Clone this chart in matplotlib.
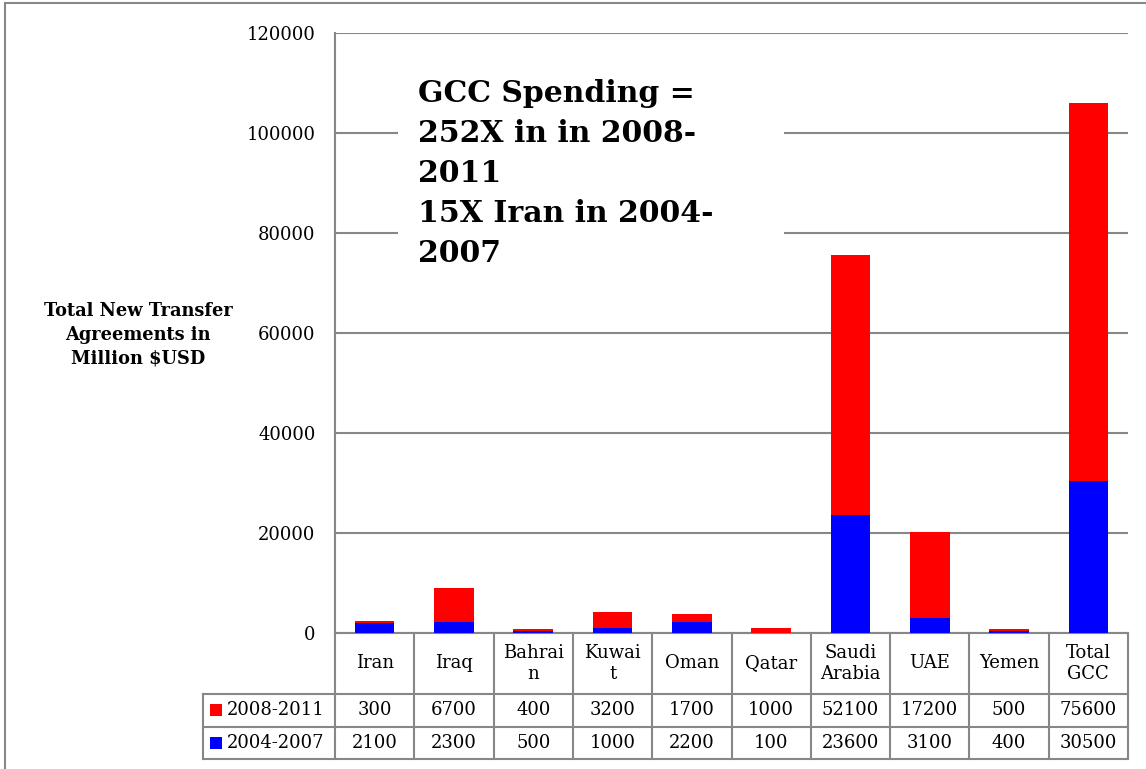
import numpy as np
import matplotlib.pyplot as plt
from matplotlib.patches import Rectangle
from matplotlib.lines import Line2D
import matplotlib.transforms as mtransforms

# data
countries = ['Iran', 'Iraq', 'Bahrai\nn', 'Kuwai\nt', 'Oman', 'Qatar',
             'Saudi\nArabia', 'UAE', 'Yemen', 'Total\nGCC']
vals_2004 = [2100, 2300, 500, 1000, 2200, 100, 23600, 3100, 400, 30500]
vals_2008 = [300, 6700, 400, 3200, 1700, 1000, 52100, 17200, 500, 75600]
series = ['2008-2011', '2004-2007']
yticks = [0, 20000, 40000, 60000, 80000, 100000, 120000]

RED = '#FF0000'
BLUE = '#0000FF'
GRAY = '#878787'

plt.rcParams['font.family'] = ['DejaVu Serif']

W, H = 1146, 769
fig = plt.figure(figsize=(W / 100, H / 100), dpi=100)

# outer chart border
fig.add_artist(Rectangle((5 / W, -0.01), 1.2, 1 - 3 / H + 0.01, transform=fig.transFigure,
                         fill=False, edgecolor=GRAY, linewidth=1.5))

ax = fig.add_axes([335 / W, 136 / H, 793 / W, 600 / H])
ax.set_axisbelow(True)
x = np.arange(len(countries))
ax.bar(x, vals_2004, width=0.5, color=BLUE, zorder=3)
ax.bar(x, vals_2008, width=0.5, bottom=vals_2004, color=RED, zorder=3)

ax.set_xlim(-0.5, len(countries) - 0.5)
ax.set_ylim(0, 120000)
ax.set_yticks(yticks)
ax.set_yticklabels([str(v) for v in yticks], fontsize=13)
ax.tick_params(axis='y', length=0, pad=14)
ax.set_xticks([])
ax.yaxis.grid(True, color=GRAY, linewidth=1.5)
for s in ['top', 'right', 'bottom']:
    ax.spines[s].set_visible(False)
ax.spines['left'].set_color(GRAY)
ax.spines['left'].set_linewidth(1.5)

# white box behind the note, cuts the gridlines
ax.add_patch(Rectangle((63 / 793, 333 / 600), 386 / 793, 230 / 600, transform=ax.transAxes,
                       facecolor='white', edgecolor='none', zorder=1))
ax.text(83 / 793, 554 / 600,
        'GCC Spending =\n252X in in 2008-\n2011\n15X Iran in 2004-\n2007',
        transform=ax.transAxes, fontsize=21.5, fontweight='bold', va='top', ha='left',
        linespacing=1.48, zorder=2)

# y label
fig.text(138 / W, 1 - 335 / H, 'Total New Transfer\nAgreements in\nMillion $USD',
         ha='center', va='center', fontsize=12.8, fontweight='bold', linespacing=1.4)

# data table under the axis
tr = mtransforms.blended_transform_factory(ax.transData, ax.transAxes)
h_head = 61 / 600
h_row = 32.5 / 600
y_rows = [0, -h_head, -h_head - h_row, -h_head - 2 * h_row]
x_leg = -0.5 - 132 / 79.3
x_right = len(countries) - 0.5

def hline(x0, x1, y):
    ax.add_line(Line2D([x0, x1], [y, y], transform=tr, color=GRAY, linewidth=1.5,
                       clip_on=False))

def vline(xx, y0, y1):
    ax.add_line(Line2D([xx, xx], [y0, y1], transform=tr, color=GRAY, linewidth=1.5,
                       clip_on=False))

hline(-0.5, x_right, y_rows[0])
for yy in y_rows[1:]:
    hline(x_leg, x_right, yy)
for i in range(len(countries) + 1):
    vline(i - 0.5, y_rows[0], y_rows[-1])
vline(x_leg, y_rows[1], y_rows[-1])

for i, c in enumerate(countries):
    ax.text(i, -h_head / 2, c, transform=tr, ha='center', va='center', fontsize=13,
            linespacing=1.15)
    ax.text(i, (y_rows[1] + y_rows[2]) / 2, str(vals_2008[i]), transform=tr,
            ha='center', va='center', fontsize=13)
    ax.text(i, (y_rows[2] + y_rows[3]) / 2, str(vals_2004[i]), transform=tr,
            ha='center', va='center', fontsize=13)

for k, (name, col) in enumerate(zip(series, [RED, BLUE])):
    yc = (y_rows[k + 1] + y_rows[k + 2]) / 2
    ax.add_patch(Rectangle((x_leg + 7 / 79.3, yc - 6 / 600), 12 / 79.3, 12 / 600,
                           transform=tr, facecolor=col, edgecolor='none', clip_on=False))
    ax.text(x_leg + 24 / 79.3, yc, name, transform=tr, ha='left', va='center', fontsize=13)

fig.savefig('out.png', dpi=100)
